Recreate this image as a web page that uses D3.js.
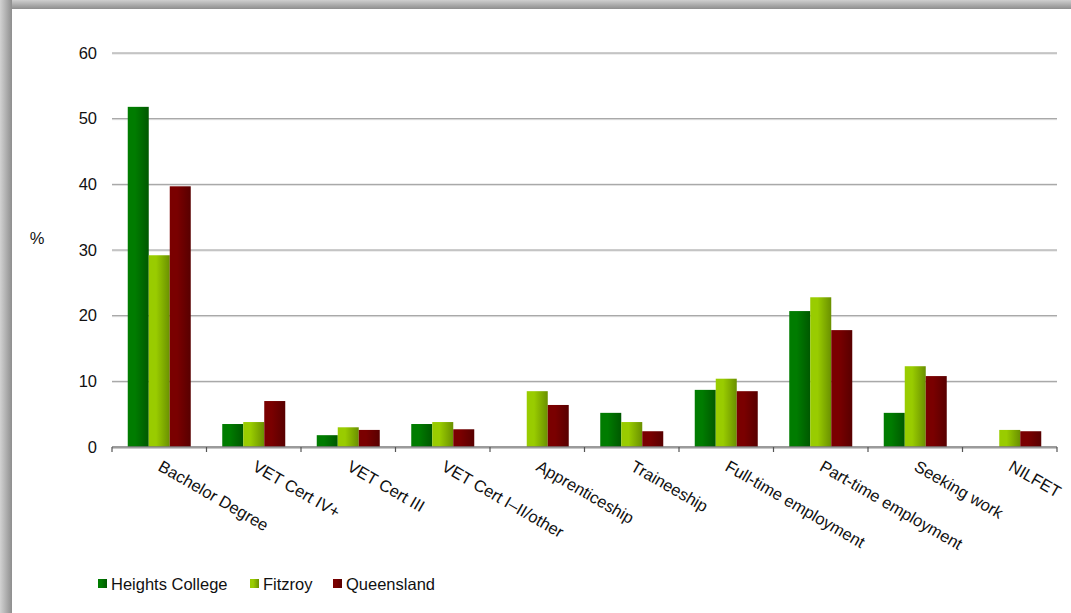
<!DOCTYPE html>
<html>
<head>
<meta charset="utf-8">
<script src="https://cdn.jsdelivr.net/npm/d3@7"></script>
<style>
  html, body { margin: 0; padding: 0; background: #fff; }
  svg { display: block; font-family: "Liberation Sans", Arial, sans-serif; }
</style>
</head>
<body>
<svg id="chart" width="1071" height="613"></svg>
<script>
// Post-school destinations, % of students
const categories = ["Bachelor Degree", "VET Cert IV+", "VET Cert III", "VET Cert I\u2013II/other",
  "Apprenticeship", "Traineeship", "Full-time employment", "Part-time employment",
  "Seeking work", "NILFET"];
const seriesNames = ["Heights College", "Fitzroy", "Queensland"];
const heightsCollege = [51.8, 3.5, 1.8, 3.5, 0, 5.2, 8.7, 20.7, 5.2, 0];
const fitzroy        = [29.2, 3.8, 3.0, 3.8, 8.5, 3.8, 10.4, 22.8, 12.3, 2.6];
const queensland     = [39.7, 7.0, 2.6, 2.7, 6.4, 2.4, 8.5, 17.8, 10.8, 2.4];
const yTicks = [0, 10, 20, 30, 40, 50, 60];

const seriesValues = [heightsCollege, fitzroy, queensland];
const baseColors = ["#007c00", "#99cc00", "#7a0000"];
const darkColors = ["#005800", "#6a9000", "#580000"];
const FONT = "16.5px";

const svg = d3.select("#chart");
const W = 1071, H = 613;

// page frame with soft shadow along the top and left edges
const defs = svg.append("defs");
const shTop = defs.append("linearGradient").attr("id", "shTop")
  .attr("x1", 0).attr("y1", 0).attr("x2", 0).attr("y2", 1);
shTop.append("stop").attr("offset", "0%").attr("stop-color", "#cfcfcf");
shTop.append("stop").attr("offset", "100%").attr("stop-color", "#8e8e8e");
const shLeft = defs.append("linearGradient").attr("id", "shLeft")
  .attr("x1", 0).attr("y1", 0).attr("x2", 1).attr("y2", 0);
shLeft.append("stop").attr("offset", "0%").attr("stop-color", "#d2d2d2");
shLeft.append("stop").attr("offset", "100%").attr("stop-color", "#8e8e8e");

svg.append("rect").attr("x", 0).attr("y", 0).attr("width", W).attr("height", H).attr("fill", "#fff");
svg.append("rect").attr("x", 0).attr("y", 0).attr("width", W).attr("height", 9).attr("fill", "url(#shTop)");
svg.append("rect").attr("x", 0).attr("y", 0).attr("width", 12).attr("height", H).attr("fill", "url(#shLeft)");

// horizontal shading for each series
seriesNames.forEach((s, i) => {
  const g = defs.append("linearGradient").attr("id", "grad" + i)
    .attr("x1", 0).attr("y1", 0).attr("x2", 1).attr("y2", 0);
  g.append("stop").attr("offset", "0%").attr("stop-color", baseColors[i]);
  g.append("stop").attr("offset", "35%").attr("stop-color", baseColors[i]);
  g.append("stop").attr("offset", "100%").attr("stop-color", darkColors[i]);
});

const x = d3.scaleBand().domain(categories).range([112, 1057]).paddingInner(0).paddingOuter(0);
const bw = x.bandwidth();
const xs = d3.scaleBand().domain(seriesNames).range([bw / 6, bw * 5 / 6]);
const y = d3.scaleLinear().domain([0, 60]).range([447, 53]);

// gridlines
const grid = svg.append("g");
yTicks.filter(t => t > 0).forEach(t => {
  grid.append("line").attr("x1", 112).attr("x2", 1057)
    .attr("y1", y(t) + 1).attr("y2", y(t) + 1).attr("stroke", "#dddddd").attr("stroke-width", 1);
  grid.append("line").attr("x1", 112).attr("x2", 1057)
    .attr("y1", y(t)).attr("y2", y(t)).attr("stroke", "#999999").attr("stroke-width", 1);
});

// y axis labels
const yAxis = svg.append("g").attr("transform", "translate(112,0)")
  .call(d3.axisLeft(y).tickValues(yTicks).tickSize(0).tickPadding(15));
yAxis.select(".domain").remove();
yAxis.selectAll("text").attr("font-size", FONT).attr("fill", "#111")
  .attr("font-family", "Liberation Sans, Arial, sans-serif");

svg.append("text").attr("x", 37).attr("y", 238).attr("dy", "0.35em")
  .attr("text-anchor", "middle").attr("font-size", FONT).attr("fill", "#111").text("%");

// bars
const rows = categories.map((c, ci) => ({ c, vals: seriesValues.map(v => v[ci]) }));
const groups = svg.append("g").selectAll("g").data(rows).join("g")
  .attr("transform", d => `translate(${x(d.c)},0)`);
groups.selectAll("rect")
  .data(d => d.vals.map((v, i) => ({ s: seriesNames[i], i, v })).filter(e => e.v > 0))
  .join("rect")
  .attr("x", e => xs(e.s))
  .attr("width", xs.bandwidth())
  .attr("y", e => y(e.v))
  .attr("height", e => y(0) - y(e.v))
  .attr("fill", e => `url(#grad${e.i})`);

// category axis line and boundary ticks
const axis = svg.append("g");
axis.append("line").attr("x1", 112).attr("x2", 1057).attr("y1", y(0) + 1.5).attr("y2", y(0) + 1.5)
  .attr("stroke", "#c8c8c8").attr("stroke-width", 1);
axis.append("line").attr("x1", 112).attr("x2", 1057).attr("y1", y(0)).attr("y2", y(0))
  .attr("stroke", "#7a7a7a").attr("stroke-width", 1.5);
const bounds = categories.map(c => x(c)).concat([x.range()[1]]);
axis.selectAll("line.tick").data(bounds).join("line").attr("class", "tick")
  .attr("x1", d => d).attr("x2", d => d).attr("y1", y(0)).attr("y2", y(0) + 5)
  .attr("stroke", "#555").attr("stroke-width", 1.2);

// rotated category labels
axis.selectAll("text.cat").data(categories).join("text").attr("class", "cat")
  .attr("transform", d => `translate(${x(d) + bw / 2 + 4},${y(0) + 12}) rotate(30)`)
  .attr("dy", "0.75em")
  .attr("font-size", FONT).attr("fill", "#111")
  .text(d => d);

// legend
const legendX = [98, 250, 333];
const legend = svg.append("g");
seriesNames.forEach((s, i) => {
  legend.append("rect").attr("x", legendX[i]).attr("y", 579).attr("width", 9).attr("height", 9)
    .attr("fill", `url(#grad${i})`);
  legend.append("text").attr("x", legendX[i] + 13).attr("y", 590)
    .attr("font-size", FONT).attr("fill", "#111").text(s);
});
</script>
</body>
</html>
